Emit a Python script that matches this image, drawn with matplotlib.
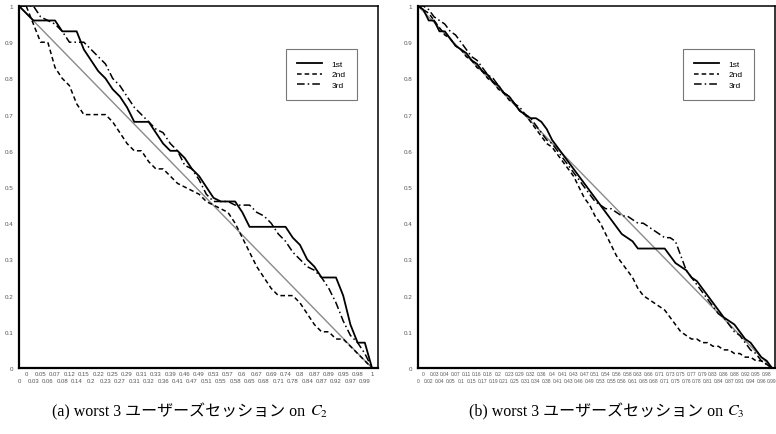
import matplotlib
matplotlib.use("Agg")
import matplotlib.pyplot as plt

plt.rcParams['font.family'] = ['Liberation Sans', 'DejaVu Sans']
plt.rcParams['mathtext.fontset'] = 'stix'

# x categories (labels are shown alternately on two rows)
left_labels = ['0', '0', '0.03', '0.05', '0.06', '0.07', '0.08', '0.12', '0.14', '0.15',
               '0.2', '0.22', '0.23', '0.25', '0.27', '0.29', '0.31', '0.31', '0.32', '0.33',
               '0.36', '0.39', '0.41', '0.46', '0.47', '0.49', '0.51', '0.53', '0.55', '0.57',
               '0.58', '0.6', '0.65', '0.67', '0.68', '0.69', '0.71', '0.74', '0.78', '0.8',
               '0.84', '0.87', '0.87', '0.89', '0.92', '0.95', '0.97', '0.98', '0.99', '1']

left_1st = [1.0, 0.98, 0.96, 0.96, 0.96, 0.96, 0.93, 0.93, 0.93, 0.88,
            0.85, 0.82, 0.80, 0.77, 0.75, 0.72, 0.68, 0.68, 0.68, 0.65,
            0.62, 0.60, 0.60, 0.58, 0.55, 0.53, 0.50, 0.47, 0.46, 0.46,
            0.46, 0.43, 0.39, 0.39, 0.39, 0.39, 0.39, 0.39, 0.36, 0.34,
            0.30, 0.28, 0.25, 0.25, 0.25, 0.20, 0.12, 0.07, 0.07, 0.0]
left_2nd = [1.0, 1.0, 0.95, 0.90, 0.90, 0.83, 0.80, 0.78, 0.73, 0.70,
            0.70, 0.70, 0.70, 0.68, 0.65, 0.62, 0.60, 0.60, 0.57, 0.55,
            0.55, 0.53, 0.51, 0.50, 0.49, 0.48, 0.46, 0.45, 0.44, 0.43,
            0.40, 0.36, 0.32, 0.28, 0.25, 0.22, 0.20, 0.20, 0.20, 0.18,
            0.15, 0.12, 0.10, 0.10, 0.08, 0.08, 0.06, 0.04, 0.02, 0.0]
left_3rd = [1.0, 1.0, 1.0, 0.97, 0.96, 0.95, 0.93, 0.90, 0.90, 0.90,
            0.88, 0.86, 0.84, 0.80, 0.78, 0.75, 0.72, 0.70, 0.68, 0.66,
            0.65, 0.62, 0.60, 0.56, 0.55, 0.52, 0.48, 0.46, 0.46, 0.46,
            0.45, 0.45, 0.45, 0.43, 0.42, 0.40, 0.37, 0.35, 0.32, 0.30,
            0.28, 0.27, 0.25, 0.22, 0.18, 0.13, 0.09, 0.07, 0.04, 0.0]

right_labels = ['0', '0', '0.02', '0.03', '0.04', '0.04', '0.05', '0.07', '0.1', '0.11',
                '0.15', '0.16', '0.17', '0.18', '0.19', '0.2', '0.21', '0.23', '0.25', '0.29',
                '0.31', '0.32', '0.34', '0.36', '0.38', '0.4', '0.41', '0.41', '0.43', '0.43',
                '0.46', '0.47', '0.49', '0.51', '0.53', '0.54', '0.55', '0.56', '0.56', '0.58',
                '0.61', '0.63', '0.65', '0.66', '0.68', '0.71', '0.71', '0.73', '0.75', '0.75',
                '0.76', '0.77', '0.78', '0.79', '0.81', '0.83', '0.84', '0.86', '0.87', '0.88',
                '0.91', '0.92', '0.94', '0.95', '0.96', '0.98', '0.99']

right_1st = [1.0, 0.99, 0.96, 0.96, 0.93, 0.93, 0.91, 0.89, 0.88, 0.87,
             0.85, 0.84, 0.82, 0.81, 0.79, 0.78, 0.76, 0.75, 0.73, 0.71,
             0.70, 0.69, 0.69, 0.68, 0.66, 0.63, 0.61, 0.59, 0.57, 0.55,
             0.53, 0.51, 0.49, 0.47, 0.45, 0.43, 0.41, 0.39, 0.37, 0.36,
             0.35, 0.33, 0.33, 0.33, 0.33, 0.33, 0.33, 0.31, 0.29, 0.28,
             0.27, 0.25, 0.24, 0.22, 0.20, 0.18, 0.16, 0.14, 0.13, 0.12,
             0.10, 0.08, 0.07, 0.05, 0.03, 0.02, 0.0]
right_2nd = [1.0, 0.99, 0.98, 0.96, 0.94, 0.92, 0.91, 0.89, 0.88, 0.86,
             0.85, 0.83, 0.82, 0.80, 0.79, 0.77, 0.76, 0.74, 0.73, 0.71,
             0.70, 0.68, 0.66, 0.64, 0.62, 0.61, 0.59, 0.57, 0.55, 0.53,
             0.50, 0.47, 0.45, 0.42, 0.40, 0.37, 0.34, 0.31, 0.29, 0.27,
             0.25, 0.22, 0.20, 0.19, 0.18, 0.17, 0.16, 0.14, 0.12, 0.10,
             0.09, 0.08, 0.08, 0.07, 0.07, 0.06, 0.06, 0.05, 0.05, 0.04,
             0.04, 0.03, 0.03, 0.02, 0.02, 0.01, 0.0]
right_3rd = [1.0, 1.0, 0.99, 0.97, 0.96, 0.95, 0.93, 0.92, 0.90, 0.88,
             0.86, 0.85, 0.83, 0.81, 0.80, 0.78, 0.76, 0.75, 0.73, 0.72,
             0.70, 0.69, 0.67, 0.65, 0.63, 0.62, 0.60, 0.58, 0.56, 0.54,
             0.52, 0.50, 0.48, 0.46, 0.45, 0.44, 0.44, 0.43, 0.42, 0.42,
             0.41, 0.40, 0.40, 0.39, 0.38, 0.37, 0.36, 0.36, 0.35, 0.31,
             0.27, 0.25, 0.23, 0.21, 0.19, 0.17, 0.15, 0.14, 0.12, 0.10,
             0.09, 0.07, 0.05, 0.04, 0.02, 0.01, 0.0]

ideal = [1.0, 0.0]
y_ticks = [0, 0.1, 0.2, 0.3, 0.4, 0.5, 0.6, 0.7, 0.8, 0.9, 1]
y_labels = ['0', '0.1', '0.2', '0.3', '0.4', '0.5', '0.6', '0.7', '0.8', '0.9', '1']

W, H = 776, 435
fig = plt.figure(figsize=(W / 100, H / 100), dpi=100)
renderer = fig.canvas.get_renderer()

tick_col = '#555555'
cap_font = ['Liberation Serif', 'Noto Sans CJK JP']


def caption(text, math, cx):
    # plain part and math part are separate texts so the CJK fallback works
    y = 1 - 412 / H
    t1 = fig.text(0, y, text, ha='left', va='center', fontsize=11.5, family=cap_font)
    t2 = fig.text(0, y, math, ha='left', va='center', fontsize=11.5)
    w1 = t1.get_window_extent(renderer).width
    w2 = t2.get_window_extent(renderer).width
    x0 = cx - (w1 + w2) / 2
    t1.set_x(x0 / W)
    t2.set_x((x0 + w1) / W)


def draw_panel(rect, labels, s1, s2, s3, x_right, legend_x, xfs):
    ax = fig.add_axes(rect)
    n = len(labels)
    x = list(range(n))
    ax.plot([0, n - 1], ideal, color='#8a8a8a', lw=1.0)
    ax.plot(x, s1, color='black', lw=1.3, label='1st')
    ax.plot(x, s2, color='black', lw=1.1, ls=(0, (3, 2)), label='2nd')
    ax.plot(x, s3, color='black', lw=1.1, ls=(0, (5, 2, 1, 2)), label='3rd')
    ax.set_xlim(0, x_right)
    ax.set_ylim(0, 1)

    # lower row: even categories, upper row: odd categories
    ax.set_xticks(x[0::2])
    ax.set_xticklabels(labels[0::2])
    ax.set_xticks(x[1::2], minor=True)
    ax.set_xticklabels(labels[1::2], minor=True)
    ax.tick_params(axis='x', which='major', length=0, pad=7.0,
                   labelsize=xfs, labelcolor=tick_col)
    ax.tick_params(axis='x', which='minor', length=0, pad=2.0,
                   labelsize=xfs, labelcolor=tick_col)
    ax.set_yticks(y_ticks)
    ax.set_yticklabels(y_labels)
    ax.tick_params(axis='y', length=0, pad=4, labelsize=4.5, labelcolor=tick_col)

    for side in ['left', 'bottom']:
        ax.spines[side].set_linewidth(1.6)
    for side in ['top', 'right']:
        ax.spines[side].set_linewidth(1.1)

    leg = ax.legend(loc='upper left', bbox_to_anchor=(legend_x, 0.881),
                    borderaxespad=0, fontsize=6, frameon=True, fancybox=False,
                    handlelength=3.0, handletextpad=1.1, labelspacing=0.3,
                    borderpad=1.35)
    leg.get_frame().set_edgecolor('#555555')
    leg.get_frame().set_linewidth(0.8)
    return ax


draw_panel([19 / W, 1 - 369 / H, 359 / W, 362 / H], left_labels,
           left_1st, left_2nd, left_3rd, 49.83, 0.744, 4.3)
draw_panel([418 / W, 1 - 369 / H, 357 / W, 362 / H], right_labels,
           right_1st, right_2nd, right_3rd, 66.56, 0.742, 3.5)

caption('(a) worst 3 ユーザーズセッション on ', '$C_2$', 190)
caption('(b) worst 3 ユーザーズセッション on ', '$C_3$', 607)

fig.savefig('out.png', dpi=100)
